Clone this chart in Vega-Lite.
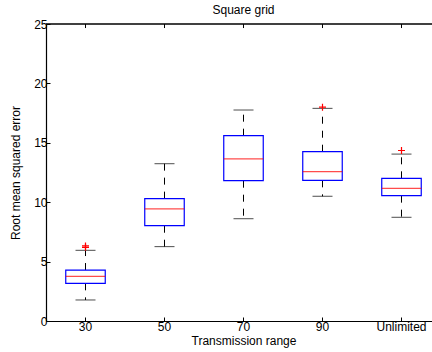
{
  "$schema": "https://vega.github.io/schema/vega-lite/v6.json",
  "width": 386,
  "height": 297,
  "autosize": {"type": "none"},
  "padding": {"left": 46, "top": 24, "right": 0, "bottom": 31},
  "background": "white",
  "title": {"text": "Square grid", "font": "Liberation Sans", "fontSize": 12, "fontWeight": "normal", "color": "black", "dx": 4.5, "offset": -8, "baseline": "alphabetic"},
  "datasets": {
    "boxes": [
      {"range": "30", "lo": 1.77, "q1": 3.17, "median": 3.75, "q3": 4.29, "hi": 5.95},
      {"range": "50", "lo": 6.26, "q1": 8.02, "median": 9.43, "q3": 10.3, "hi": 13.24},
      {"range": "70", "lo": 8.61, "q1": 11.81, "median": 13.64, "q3": 15.6, "hi": 17.76},
      {"range": "90", "lo": 10.5, "q1": 11.84, "median": 12.57, "q3": 14.25, "hi": 17.9},
      {"range": "Unlimited", "lo": 8.73, "q1": 10.55, "median": 11.17, "q3": 12.01, "hi": 14.05}
    ],
    "outliers": [
      {"range": "30", "value": 6.2},
      {"range": "30", "value": 6.32},
      {"range": "90", "value": 18.0},
      {"range": "Unlimited", "value": 14.35}
    ]
  },
  "layer": [
    {
      "data": {"name": "boxes"},
      "mark": {"type": "rule", "color": "black", "strokeDash": [7, 7], "strokeWidth": 1},
      "encoding": {
        "x": {
          "field": "range", "type": "nominal",
          "sort": ["30", "50", "70", "90", "Unlimited"],
          "scale": {"type": "band", "paddingInner": 0.5, "paddingOuter": 0.25, "range": [0, 395]},
          "axis": {"title": "Transmission range", "labelAngle": 0, "tickSize": -4, "labelPadding": 4, "titlePadding": 0, "titleY": 14, "titleBaseline": "top"}
        },
        "y": {"field": "q3", "type": "quantitative", "scale": {"domain": [0, 25], "nice": false, "zero": false},
              "axis": {"title": "Root mean squared error", "values": [0, 5, 10, 15, 20, 25], "tickSize": -4, "labelPadding": 3, "titleX": -24, "titleBaseline": "bottom"}},
        "y2": {"field": "hi"}
      }
    },
    {
      "data": {"name": "boxes"},
      "mark": {"type": "rule", "color": "black", "strokeDash": [7, 7], "strokeWidth": 1},
      "encoding": {
        "x": {"field": "range", "type": "nominal", "sort": ["30", "50", "70", "90", "Unlimited"]},
        "y": {"field": "q1", "type": "quantitative"},
        "y2": {"field": "lo"}
      }
    },
    {
      "data": {"name": "boxes"},
      "mark": {"type": "tick", "color": "black", "size": 20, "thickness": 1, "orient": "horizontal"},
      "encoding": {
        "x": {"field": "range", "type": "nominal", "sort": ["30", "50", "70", "90", "Unlimited"]},
        "y": {"field": "hi", "type": "quantitative"}
      }
    },
    {
      "data": {"name": "boxes"},
      "mark": {"type": "tick", "color": "black", "size": 20, "thickness": 1, "orient": "horizontal"},
      "encoding": {
        "x": {"field": "range", "type": "nominal", "sort": ["30", "50", "70", "90", "Unlimited"]},
        "y": {"field": "lo", "type": "quantitative"}
      }
    },
    {
      "data": {"name": "boxes"},
      "mark": {"type": "bar", "fill": "white", "stroke": "#0000ff", "strokeWidth": 1.2},
      "encoding": {
        "x": {"field": "range", "type": "nominal", "sort": ["30", "50", "70", "90", "Unlimited"]},
        "y": {"field": "q1", "type": "quantitative"},
        "y2": {"field": "q3"}
      }
    },
    {
      "data": {"name": "boxes"},
      "mark": {"type": "tick", "color": "#ff0000", "size": 39.5, "thickness": 1.2, "orient": "horizontal"},
      "encoding": {
        "x": {"field": "range", "type": "nominal", "sort": ["30", "50", "70", "90", "Unlimited"]},
        "y": {"field": "median", "type": "quantitative"}
      }
    },
    {
      "data": {"name": "outliers"},
      "mark": {"type": "point", "shape": "M-1,0L1,0M0,-1L0,1", "filled": false, "stroke": "#ff0000", "strokeWidth": 1.2, "size": 49, "opacity": 1},
      "encoding": {
        "x": {"field": "range", "type": "nominal", "sort": ["30", "50", "70", "90", "Unlimited"]},
        "y": {"field": "value", "type": "quantitative"}
      }
    },
    {
      "data": {"name": "boxes"},
      "mark": {"type": "rule", "color": "black", "strokeWidth": 1},
      "encoding": {
        "x": {"field": "range", "type": "nominal", "sort": ["30", "50", "70", "90", "Unlimited"]},
        "y": {"datum": 25, "type": "quantitative"},
        "y2": {"datum": 24.66}
      }
    },
    {
      "data": {"values": [{}]},
      "mark": {"type": "rule", "color": "black", "strokeWidth": 1.3},
      "encoding": {
        "y": {"datum": 25, "type": "quantitative"}
      }
    }
  ],
  "config": {
    "view": {"stroke": null},
    "axis": {
      "grid": false,
      "domainColor": "black", "domainWidth": 1.2,
      "tickColor": "black", "tickWidth": 1,
      "labelColor": "black", "labelFont": "Liberation Sans", "labelFontSize": 12,
      "titleColor": "black", "titleFont": "Liberation Sans", "titleFontSize": 12, "titleFontWeight": "normal"
    }
  }
}
